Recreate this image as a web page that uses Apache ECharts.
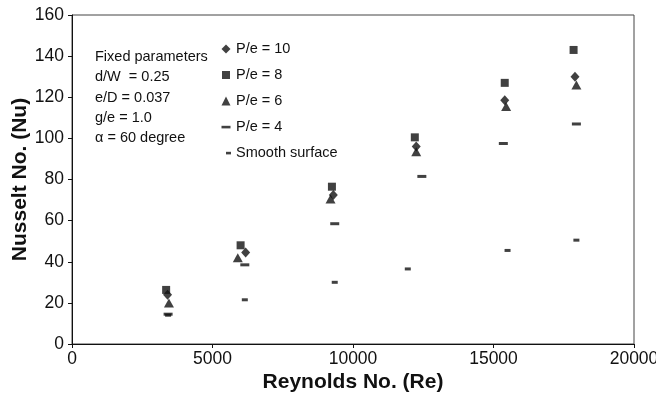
<!DOCTYPE html>
<html>
<head>
<meta charset="utf-8">
<script src="https://cdn.jsdelivr.net/npm/echarts@6/dist/echarts.min.js"></script>
<style>
html,body{margin:0;padding:0;background:#fff;}
#chart{width:656px;height:401px;}
</style>
</head>
<body>
<div id="chart"></div>
<script>
// Data
const seriesNames = ['P/e = 10', 'P/e = 8', 'P/e = 6', 'P/e = 4', 'Smooth surface'];
const re_pe10 = [3400, 6180, 9300, 12250, 15400, 17900];
const nu_pe10 = [24, 44.5, 72.5, 96, 118.5, 130];
const re_pe8 = [3350, 6000, 9250, 12200, 15400, 17850];
const nu_pe8 = [26.3, 48, 76.5, 100.5, 127, 143];
const re_pe6 = [3450, 5900, 9200, 12250, 15450, 17950];
const nu_pe6 = [20, 42, 70.5, 93.5, 115.5, 126];
const re_pe4 = [3420, 6150, 9350, 12450, 15350, 17950];
const nu_pe4 = [14.5, 38.5, 58.5, 81.5, 97.5, 107];
const re_smooth = [3420, 6150, 9350, 11950, 15500, 17950];
const nu_smooth = [14, 21.5, 30, 36.5, 45.5, 50.5];
const xTicks = [0, 5000, 10000, 15000, 20000];
const yTicks = [0, 20, 40, 60, 80, 100, 120, 140, 160];
const fixedParams = ['Fixed parameters', 'd/W  = 0.25', 'e/D = 0.037', 'g/e = 1.0', '\u03b1 = 60 degree'];

const pair = (xs, ys) => xs.map((x, i) => [x, ys[i]]);
const ink = '#111';

const icons = [
  'path://M5,0.5L9.5,5L5,9.5L0.5,5Z M0,0 M10,10',
  'path://M1,1H9V9H1Z M0,0 M10,10',
  'path://M5,0.5L9.5,9.5H0.5Z M0,0 M10,10',
  'path://M0.5,3.8H9.5V6.4H0.5Z M0,0 M10,10',
  'path://M5,3.8H10V6.4H5Z M0,0 M10,10'
];

const chart = echarts.init(document.getElementById('chart'), null, {renderer: 'canvas'});
chart.setOption({
  animation: false,
  backgroundColor: '#fff',
  grid: {left: 72, right: 22, top: 15, bottom: 57, show: true, borderColor: '#444', borderWidth: 1,
    containLabel: false, outerBoundsMode: 'none'},
  xAxis: {
    type: 'value', min: 0, max: 20000, interval: 5000,
    name: 'Reynolds No. (Re)', nameLocation: 'middle', nameGap: 28, nameMoveOverlap: false,
    nameTextStyle: {fontFamily: 'Liberation Sans', fontWeight: 'bold', fontSize: 21, color: ink},
    axisLine: {show: true, lineStyle: {color: ink, width: 1}},
    axisTick: {show: true, inside: false, length: 4, lineStyle: {color: ink}},
    axisLabel: {fontFamily: 'Liberation Sans', fontSize: 17.5, color: ink, margin: 6,
      formatter: v => xTicks.includes(v) ? String(v) : ''},
    splitLine: {show: false}
  },
  yAxis: {
    type: 'value', min: 0, max: 160, interval: 20,
    name: 'Nusselt No. (Nu)', nameLocation: 'middle', nameGap: 41, nameMoveOverlap: false,
    nameTextStyle: {fontFamily: 'Liberation Sans', fontWeight: 'bold', fontSize: 21, color: ink},
    axisLine: {show: true, lineStyle: {color: ink, width: 1}},
    axisTick: {show: true, inside: false, length: 4, lineStyle: {color: ink}},
    axisLabel: {fontFamily: 'Liberation Sans', fontSize: 17.5, color: ink, margin: 8,
      formatter: v => yTicks.includes(v) ? String(v) : ''},
    splitLine: {show: false}
  },
  legend: {
    orient: 'vertical', left: 216, top: 35.5,
    itemWidth: 10, itemHeight: 10, itemGap: 9,
    textStyle: {fontFamily: 'Liberation Sans', fontSize: 14.5, color: ink, lineHeight: 17},
    data: seriesNames.map((n, i) => ({name: n, icon: icons[i]})),
    selectedMode: false
  },
  graphic: [{
    type: 'text', left: 95, top: 47,
    style: {text: fixedParams.join('\n'), font: '14.5px "Liberation Sans"', fill: ink, lineHeight: 20.3}
  }],
  series: [
    {name: seriesNames[0], type: 'scatter', data: pair(re_pe10, nu_pe10), symbol: 'diamond', symbolSize: [9, 10], itemStyle: {color: ink}, z: 3},
    {name: seriesNames[1], type: 'scatter', data: pair(re_pe8, nu_pe8), symbol: 'rect', symbolSize: 8, itemStyle: {color: ink}, z: 2},
    {name: seriesNames[2], type: 'scatter', data: pair(re_pe6, nu_pe6), symbol: 'triangle', symbolSize: [10, 9], itemStyle: {color: ink}, z: 4},
    {name: seriesNames[3], type: 'scatter', data: pair(re_pe4, nu_pe4), symbol: 'rect', symbolSize: [9, 3], itemStyle: {color: ink}, z: 2},
    {name: seriesNames[4], type: 'scatter', data: pair(re_smooth, nu_smooth), symbol: 'rect', symbolSize: [6, 3], itemStyle: {color: ink}, z: 2}
  ]
});
</script>
</body>
</html>
